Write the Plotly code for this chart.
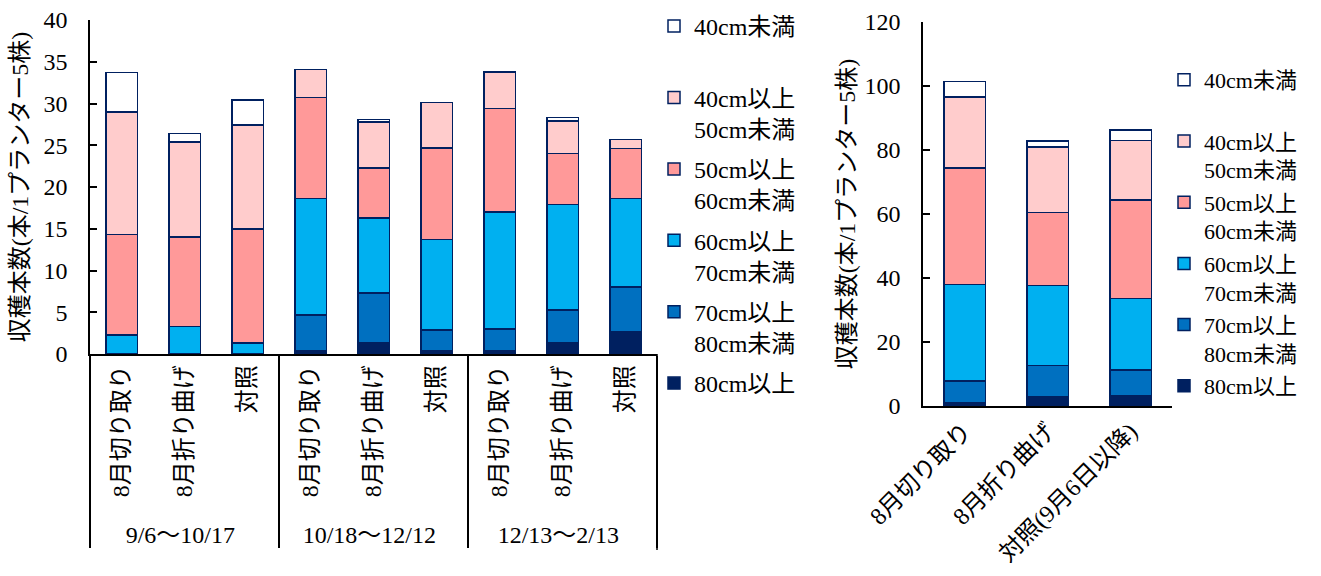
import plotly.graph_objects as go

# Harvest counts per 5-plant planter, split by stem length class
periods = ["9/6～10/17"] * 3 + ["10/18～12/12"] * 3 + ["12/13～2/13"] * 3
treatments = ["8月切り取り", "8月折り曲げ", "対照"] * 3
totals_treatments = ["8月切り取り", "8月折り曲げ", "対照(9月6日以降)"]

classes = ["80cm以上", "70cm以上<br>80cm未満", "60cm以上<br>70cm未満",
           "50cm以上<br>60cm未満", "40cm以上<br>50cm未満", "40cm未満<br> "]
colors = ["#002060", "#0070C0", "#00B0F0", "#FF9999", "#FFCCCC", "#FFFFFF"]

# per-period values (bottom class first)
len_80_up = [0, 0, 0, 0.4, 1.3, 0.4, 0.4, 1.3, 2.7]
len_70_80 = [0, 0, 0, 4.3, 6.0, 2.5, 2.6, 4.0, 5.3]
len_60_70 = [2.3, 3.3, 1.3, 13.9, 9.0, 10.8, 14.0, 12.6, 10.6]
len_50_60 = [12.0, 10.7, 13.7, 12.1, 6.0, 11.0, 12.4, 6.1, 6.0]
len_40_50 = [14.7, 11.4, 12.4, 3.4, 5.5, 5.4, 4.4, 3.9, 1.1]
len_40_under = [4.7, 1.0, 3.0, 0, 0.3, 0, 0, 0.4, 0]

# season totals (bottom class first)
tot_80_up = [1.0, 3.0, 3.2]
tot_70_80 = [6.8, 9.7, 8.0]
tot_60_70 = [30.1, 25.0, 22.4]
tot_50_60 = [36.5, 22.7, 30.7]
tot_40_50 = [22.2, 20.5, 18.6]
tot_40_under = [4.8, 1.9, 3.3]

period_series = [len_80_up, len_70_80, len_60_70, len_50_60, len_40_50, len_40_under]
total_series = [tot_80_up, tot_70_80, tot_60_70, tot_50_60, tot_40_50, tot_40_under]

W, H = 1321, 576
FONT = "Liberation Serif, Noto Sans CJK JP, serif"
EDGE = "#002060"
FS = 24

fig = go.Figure()
for i, (name, col) in enumerate(zip(classes, colors)):
    fig.add_trace(go.Bar(
        x=[periods, treatments], y=period_series[i], name=name,
        marker=dict(color=col, line=dict(color=EDGE, width=1.5)),
        xaxis="x", yaxis="y", legend="legend", legendgroup=f"a{i}",
        legendrank=100 - i,
    ))
for i, (name, col) in enumerate(zip(classes, colors)):
    fig.add_trace(go.Bar(
        x=totals_treatments, y=total_series[i], name=name,
        marker=dict(color=col, line=dict(color=EDGE, width=1.5)),
        xaxis="x2", yaxis="y2", legend="legend2", legendgroup=f"b{i}",
        legendrank=100 - i,
    ))

def px_x(p):
    return p / W

def px_y(p):
    return 1 - p / H

axis_font = dict(family=FONT, size=FS, color="black")
ytitle = "収穫本数(本/1プランター5株)"

fig.update_layout(
    width=W, height=H,
    margin=dict(l=0, r=0, t=0, b=0),
    paper_bgcolor="white", plot_bgcolor="white",
    barmode="stack", bargap=0.5,
    font=axis_font,
    xaxis=dict(
        domain=[px_x(90), px_x(657)], anchor="y", type="multicategory",
        automargin=False,
        showline=True, linecolor="black", linewidth=1.5,
        tickangle=-90, tickfont=axis_font,
        showdividers=True, dividercolor="black", dividerwidth=1.5,
        showgrid=False,
    ),
    yaxis=dict(
        domain=[px_y(354), px_y(20)], anchor="x", range=[0, 40], dtick=5,
        automargin=False,
        showline=True, linecolor="black", linewidth=1.5,
        ticks="inside", ticklen=7, tickcolor="black", tickwidth=1.5,
        showgrid=False, zeroline=False, tickfont=axis_font,
        ticklabelstandoff=16,
        title=dict(text=ytitle, font=axis_font, standoff=8),
    ),
    xaxis2=dict(
        domain=[px_x(923), px_x(1172)], anchor="y2",
        automargin=False,
        showline=True, linecolor="black", linewidth=1.5,
        tickangle=-45, tickfont=axis_font,
        showgrid=False,
    ),
    yaxis2=dict(
        domain=[px_y(406), px_y(22)], anchor="x2", range=[0, 120], dtick=20,
        automargin=False,
        showline=True, linecolor="black", linewidth=1.5,
        ticks="inside", ticklen=7, tickcolor="black", tickwidth=1.5,
        showgrid=False, zeroline=False, tickfont=axis_font,
        ticklabelstandoff=16,
        title=dict(text=ytitle, font=axis_font, standoff=2),
    ),
    legend=dict(
        x=px_x(654), y=px_y(4), xanchor="left", yanchor="top",
        traceorder="grouped", tracegroupgap=6, valign="top",
        font=axis_font, bgcolor="rgba(0,0,0,0)",
    ),
    legend2=dict(
        x=px_x(1164), y=px_y(59), xanchor="left", yanchor="top",
        traceorder="grouped", tracegroupgap=1, valign="top",
        font=dict(family=FONT, size=22, color="black"), bgcolor="rgba(0,0,0,0)",
    ),
)

# closing divider on the right edge of the period axis
fig.add_shape(type="line", xref="paper", yref="paper",
              x0=px_x(657), x1=px_x(657), y0=px_y(354), y1=px_y(550),
              line=dict(color="black", width=1.5))

fig.write_html("out.html")
